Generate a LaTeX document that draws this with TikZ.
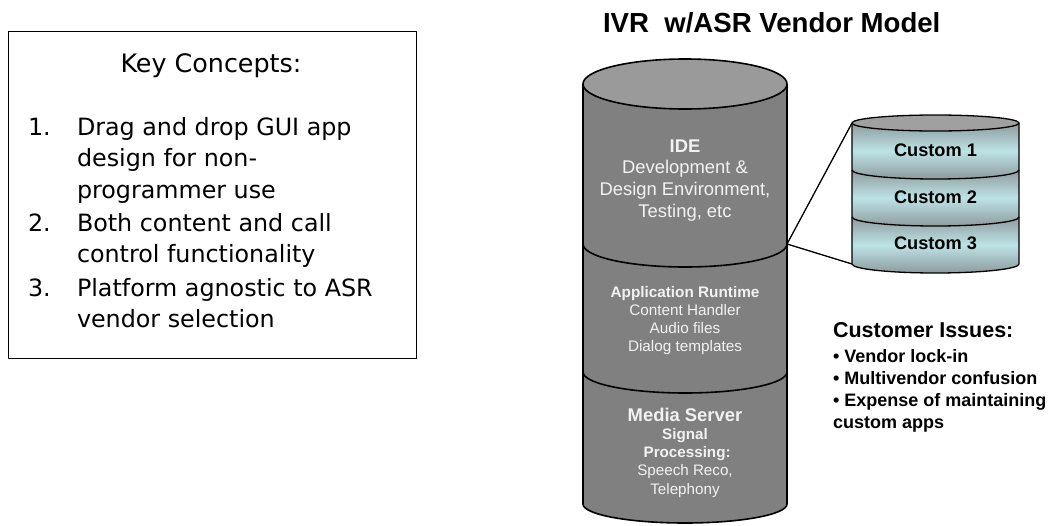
\documentclass[tikz,border=0pt]{standalone}
\usepackage{fontspec}
\setmainfont{Liberation Sans}
\newfontfamily\tahoma{DejaVu Sans}
\definecolor{cylbody}{HTML}{808080}
\definecolor{cyltop}{HTML}{9A9A9A}
\definecolor{cyltext}{HTML}{F2F2F2}
\definecolor{custgray}{HTML}{8E9B9C}
\definecolor{custcyan}{HTML}{BDE3E6}
\definecolor{custtop}{HTML}{A0A0A0}
\begin{document}
\begin{tikzpicture}[x=1pt,y=1pt,line join=round,
  kcfont/.style={font=\tahoma\fontsize{23.8}{31.6}\selectfont},
  kctitlefont/.style={font=\tahoma\fontsize{25.4}{30}\selectfont},
  txt/.style={inner sep=0pt,outer sep=0pt},
  cyledge/.style={draw=black,line width=1.6pt},
  custedge/.style={draw=black,line width=1.3pt},
  ideftext/.style={txt,text=cyltext,align=center,font=\fontsize{18.4}{21.7}\selectfont},
  apptext/.style={txt,text=cyltext,align=center,font=\fontsize{15.3}{18.3}\selectfont},
  custlbl/.style={txt,font=\bfseries\fontsize{18.2}{22}\selectfont},
  link/.style={draw=black,line width=1.3pt}]
\useasboundingbox (0,0) rectangle (1055,-525);
\clip (0,0) rectangle (1055,-525);

% ---- Key concepts box (multi-line nodes: base anchor = last line)
\node[draw=black,line width=1.3pt,minimum width=407.8pt,minimum height=327pt,inner sep=0pt,anchor=north west] (kbox) at (7.7,-30.5) {};
\node[txt,kctitlefont,anchor=base] (kct) at (211,-72) {Key Concepts:};
\node[txt,kcfont,anchor=base west] (n1) at (28,-135) {1.};
\node[txt,kcfont,anchor=base west,align=left] (t1) at (77,-198.2) {Drag and drop GUI app\\design for non-\\programmer use};
\node[txt,kcfont,anchor=base west] (n2) at (28,-231) {2.};
\node[txt,kcfont,anchor=base west,align=left] (t2) at (77,-262.6) {Both content and call\\control functionality};
\node[txt,kcfont,anchor=base west] (n3) at (28,-296) {3.};
\node[txt,kcfont,anchor=base west,align=left] (t3) at (77,-327.6) {Platform agnostic to ASR\\vendor selection};

% ---- Title
\node[txt,anchor=base west,font=\bfseries\fontsize{27.6}{32}\selectfont] (title) at (603,-32) {IVR\ \ w/ASR Vendor Model};

% ---- Main cylinder (bottom-up)
\fill[cylbody] (583,-372) -- (583,-504) arc[start angle=180,end angle=360,x radius=102,y radius=19] -- (787,-372) -- cycle;
\path[cyledge] (583,-372) -- (583,-504) arc[start angle=180,end angle=360,x radius=102,y radius=19] -- (787,-372);
\fill[cylbody] (583,-244) -- (583,-372) arc[start angle=180,end angle=360,x radius=102,y radius=21] -- (787,-244) -- cycle;
\path[cyledge] (583,-244) -- (583,-372) arc[start angle=180,end angle=360,x radius=102,y radius=21] -- (787,-244);
\fill[cylbody] (583,-84) -- (583,-244) arc[start angle=180,end angle=360,x radius=102,y radius=23] -- (787,-84) -- cycle;
\path[cyledge] (583,-84) -- (583,-244) arc[start angle=180,end angle=360,x radius=102,y radius=23] -- (787,-84);
\path[cyledge,fill=cyltop] (685,-84) ellipse[x radius=102,y radius=25];

\node[ideftext,anchor=base] (ide) at (685,-217.1) {\bfseries IDE\\Development \&\\Design Environment,\\Testing, etc};
\node[apptext,anchor=base] (app) at (685,-351.9) {\bfseries Application Runtime\\Content Handler\\Audio files\\Dialog templates};
\node[txt,text=cyltext,anchor=base,font=\bfseries\fontsize{18.4}{21}\selectfont] (media) at (685,-421) {Media Server};
\node[apptext,anchor=base,font=\fontsize{15.2}{18.4}\selectfont] (sig) at (685,-494.2) {\bfseries Signal\\\bfseries\ Processing:\\Speech Reco,\\Telephony};

% ---- Connectors
\coordinate (j) at (787,-244);
\coordinate (ctl) at (852,-123);
\coordinate (cbl) at (852,-264);
\draw[link] (j) -- (ctl);
\draw[link] (j) -- (cbl);

% ---- Custom stack (bottom-up)
\shade[top color=custgray,bottom color=custgray,middle color=custcyan] (852,-217) -- (852,-264) arc[start angle=180,end angle=360,x radius=83.5,y radius=9] -- (1019,-217) -- cycle;
\path[custedge] (852,-217) -- (852,-264) arc[start angle=180,end angle=360,x radius=83.5,y radius=9] -- (1019,-217);
\shade[top color=custgray,bottom color=custgray,middle color=custcyan] (852,-170) -- (852,-217) arc[start angle=180,end angle=360,x radius=83.5,y radius=9] -- (1019,-170) -- cycle;
\path[custedge] (852,-170) -- (852,-217) arc[start angle=180,end angle=360,x radius=83.5,y radius=9] -- (1019,-170);
\shade[top color=custgray,bottom color=custgray,middle color=custcyan] (852,-123) -- (852,-170) arc[start angle=180,end angle=360,x radius=83.5,y radius=9] -- (1019,-123) -- cycle;
\path[custedge] (852,-123) -- (852,-170) arc[start angle=180,end angle=360,x radius=83.5,y radius=9] -- (1019,-123);
\path[custedge,fill=custtop] (935.5,-123) ellipse[x radius=83.5,y radius=8];

\node[custlbl,anchor=base] (c1) at (935.5,-156) {Custom 1};
\node[custlbl,anchor=base] (c2) at (935.5,-203) {Custom 2};
\node[custlbl,anchor=base] (c3) at (935.5,-249) {Custom 3};

% ---- Customer issues
\node[txt,anchor=base west,font=\bfseries\fontsize{21.5}{25}\selectfont] (ci) at (833,-337) {Customer Issues:};
\node[txt,anchor=base west,align=left,font=\bfseries\fontsize{18}{22}\selectfont] (cil) at (833,-428) {• Vendor lock-in\\• Multivendor confusion\\• Expense of maintaining\\custom apps};
\end{tikzpicture}
\end{document}
